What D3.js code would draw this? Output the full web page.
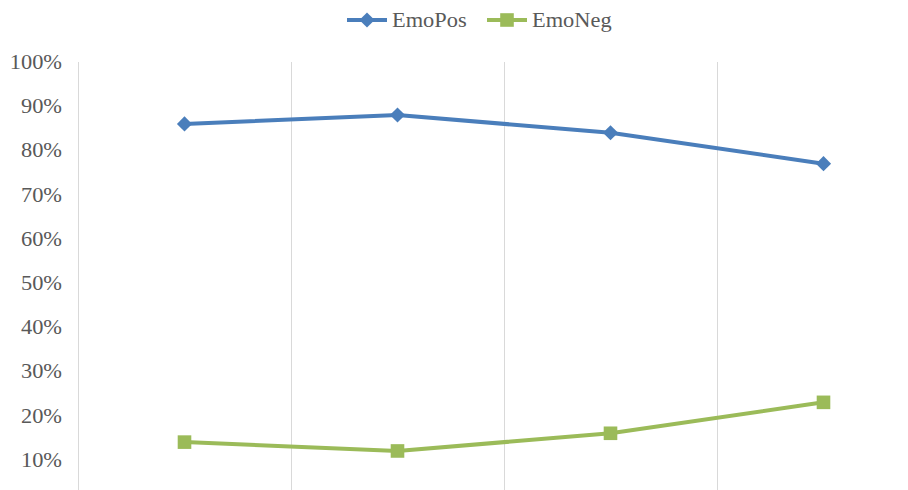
<!DOCTYPE html>
<html lang="en">
<head>
    <meta charset="UTF-8">
    <script src="https://cdnjs.cloudflare.com/ajax/libs/d3/7.8.5/d3.min.js"></script>
    <title>EmoPos / EmoNeg</title>
    <style>
        body {
            margin: 0;
            background: #fff;
        }
        text {
            font-family: 'Liberation Serif', 'Times New Roman', serif;
            fill: #595959;
        }
    </style>
</head>
<body>
    <div class="fig"></div>

    <script>
        // Chart data
        const categories = ["1", "2", "3", "4"];
        const emoPos = [0.86, 0.88, 0.84, 0.77];
        const emoNeg = [0.14, 0.12, 0.16, 0.23];
        const yTicks = [0.1, 0.2, 0.3, 0.4, 0.5, 0.6, 0.7, 0.8, 0.9, 1.0];

        const width = 908;
        const height = 490;

        const svg = d3.select(".fig").append("svg")
            .attr("width", width)
            .attr("height", height);

        // plot area runs past the bottom / right edge of the picture
        const x = d3.scaleBand()
            .domain(categories)
            .range([78, 930]);

        const y = d3.scaleLinear()
            .domain([0, 1])
            .range([504, 62]);

        // vertical gridlines at category boundaries
        svg.append("g")
            .selectAll("line")
            .data(categories)
            .enter()
            .append("line")
            .attr("x1", d => Math.round(x(d)) + 0.5)
            .attr("x2", d => Math.round(x(d)) + 0.5)
            .attr("y1", y(1))
            .attr("y2", height)
            .attr("stroke", "#d9d9d9")
            .attr("stroke-width", 1);

        // y axis labels (text is a bit wide in the original)
        svg.append("g")
            .selectAll("text")
            .data(yTicks)
            .enter()
            .append("text")
            .attr("transform", d => `translate(62,${y(d)}) scale(1.12,1)`)
            .attr("dy", "0.35em")
            .attr("text-anchor", "end")
            .style("font-size", "20px")
            .text(d => d3.format(".0%")(d));

        const line = d3.line()
            .x((d, i) => x(categories[i]) + x.bandwidth() / 2)
            .y(d => y(d));

        // diamond = square turned 45deg
        const series = [
            { name: "EmoPos", values: emoPos, color: "#4a7ebb", symbol: d3.symbolSquare, size: 115, rotate: 45 },
            { name: "EmoNeg", values: emoNeg, color: "#9bbb59", symbol: d3.symbolSquare, size: 185, rotate: 0 }
        ];

        series.forEach(s => {
            svg.append("path")
                .datum(s.values)
                .attr("d", line)
                .attr("fill", "none")
                .attr("stroke", s.color)
                .attr("stroke-width", 4)
                .attr("stroke-linejoin", "round");

            svg.append("g")
                .selectAll("path")
                .data(s.values)
                .enter()
                .append("path")
                .attr("d", d3.symbol().type(s.symbol).size(s.size))
                .attr("transform", (d, i) => `translate(${x(categories[i]) + x.bandwidth() / 2},${y(d)}) rotate(${s.rotate})`)
                .attr("fill", s.color);
        });

        // legend
        const legend = svg.append("g");
        const legendX = [347, 487];
        series.forEach((s, i) => {
            const g = legend.append("g").attr("transform", `translate(${legendX[i]},20)`);
            g.append("line")
                .attr("x1", 0).attr("x2", 40)
                .attr("stroke", s.color)
                .attr("stroke-width", 4);
            g.append("path")
                .attr("d", d3.symbol().type(s.symbol).size(s.size))
                .attr("transform", `translate(20,0) rotate(${s.rotate})`)
                .attr("fill", s.color);
            g.append("text")
                .attr("transform", "translate(45,0) scale(1.12,1)")
                .attr("dy", "0.35em")
                .style("font-size", "20px")
                .text(s.name);
        });
    </script>
</body>
</html>
